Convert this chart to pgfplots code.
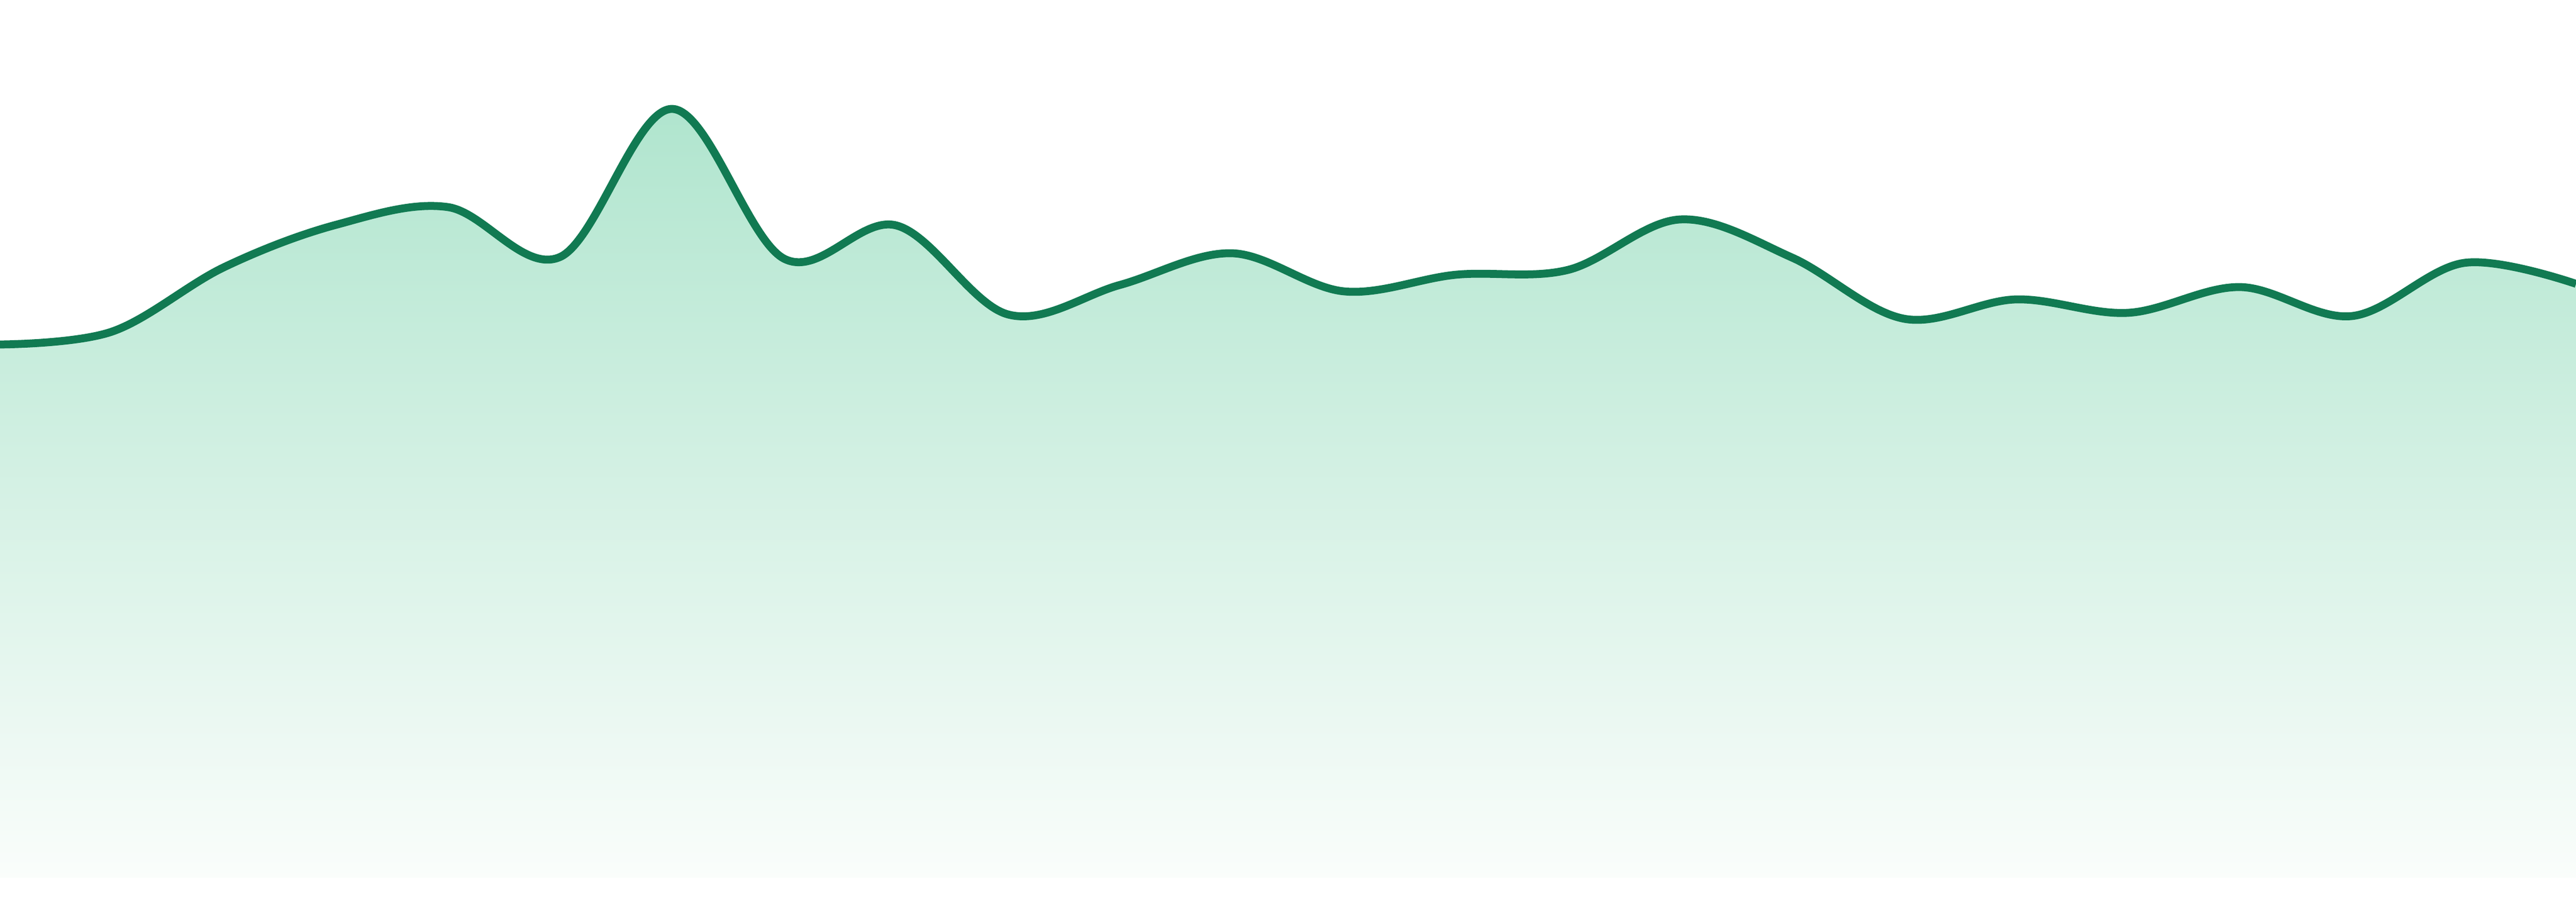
\documentclass[border=0pt]{standalone}
\usepackage{pgfplots}
\pgfplotsset{compat=1.18}

\definecolor{linegreen}{RGB}{17,122,82}
\definecolor{filltop}{RGB}{176,229,206}
\definecolor{fillbot}{RGB}{250,253,251}

\pgfplotstableread{
x y
0 99.4
1 101.8
2 113.8
3 121.7
4 125.0
5 115.7
6 143.3
7 115.4
8 121.6
9 105.0
10 110.5
11 116.4
12 109.3
13 112.4
14 113.3
15 122.7
16 115.6
17 104.2
18 107.8
19 105.3
20 110.1
21 104.7
22 114.6
23 110.7
}\series

\begin{document}
\begin{tikzpicture}
\begin{axis}[
  width=16cm, height=5.6cm,
  scale only axis,
  hide axis,
  clip=true,
  xmin=0, xmax=23,
  ymin=-4.4, ymax=163.6,
]
\addplot[smooth, tension=0.58, draw=none, top color=filltop, bottom color=fillbot]
  table {\series} \closedcycle;
\addplot[smooth, tension=0.58, linegreen, line width=1.4pt] table {\series};
\coordinate (sw) at (rel axis cs:0,0);
\coordinate (ne) at (rel axis cs:1,1);
\end{axis}
\pgfresetboundingbox
\path[use as bounding box] (sw) rectangle (ne);
\end{tikzpicture}
\end{document}
